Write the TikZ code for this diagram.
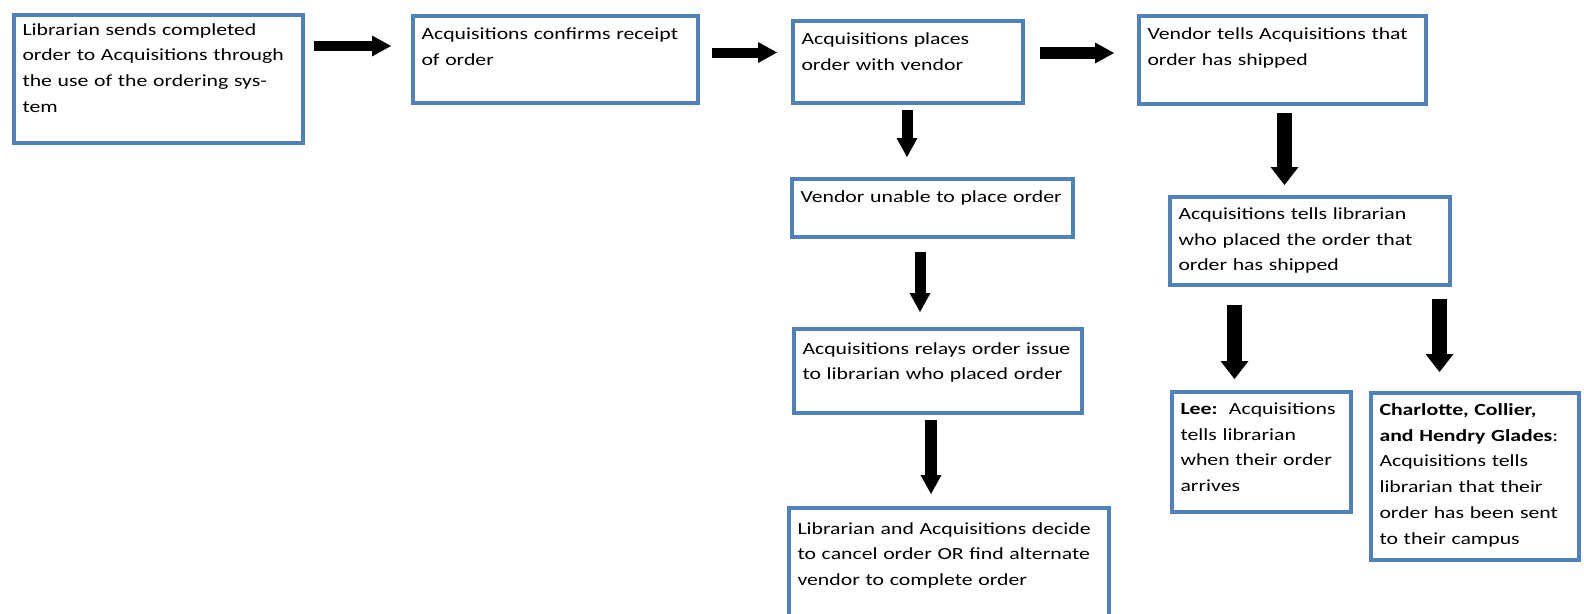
\documentclass[tikz,border=0pt]{standalone}
\usepackage{fontspec}
\setmainfont{Carlito}[FakeStretch=1.28]
\usepackage{tikz}
\usetikzlibrary{calc,arrows.meta}
\usepackage{xcolor}
\definecolor{boxblue}{HTML}{4F81BD}

\begin{document}
\begin{tikzpicture}[x=1pt, y=-1pt,
    stepbox/.style={draw=boxblue, line width=4pt, anchor=north west, align=left,
        inner xsep=8.5pt, inner ysep=0pt, text height=23.5pt,
        font=\fontsize{17}{25.7}\selectfont},
    flow/.style={line width=11pt, -{Triangle[width=21pt, length=19pt, line width=0pt]}},
    bigflow/.style={line width=15pt, -{Triangle[width=28pt, length=18pt, line width=0pt]}}]
    \useasboundingbox (0,0) rectangle (1584,613);

    % Top row
    \node[stepbox, text width=272pt, text height=20pt, text depth=108pt] (send) at (12,13)
        {Librarian sends completed\\order to Acquisitions through\\the use of the ordering sys-\\tem};
    \node[stepbox, text width=268pt, text depth=63.5pt] (confirm) at (411,14)
        {Acquisitions confirms receipt\\of order};
    \node[stepbox, text width=213pt, text depth=58.5pt] (place) at (791,19)
        {Acquisitions places\\order with vendor};
    \node[stepbox, text width=270pt, text depth=64.5pt] (shipped) at (1137,14)
        {Vendor tells Acquisitions that\\order has shipped};

    % Vendor problem branch
    \node[stepbox, text width=264pt, text depth=34.5pt] (unable) at (790,177)
        {Vendor unable to place order};
    \node[stepbox, text width=271pt, text height=25pt, text depth=59pt] (relay) at (792,327)
        {Acquisitions relays order issue\\to librarian who placed order};
    \node[stepbox, text width=303pt, text height=26pt, text depth=94pt] (decide) at (787,506)
        {Librarian and Acquisitions decide\\to cancel order OR find alternate\\vendor to complete order};

    % Shipping branch
    \node[stepbox, text width=263pt, text height=22.5pt, text depth=65.5pt] (tell) at (1168,195)
        {Acquisitions tells librarian\\who placed the order that\\order has shipped};
    \node[stepbox, text width=162pt, text height=22.5pt, text depth=97.5pt] (lee) at (1170,390)
        {\textbf{Lee:}\ \ Acquisitions\\tells librarian\\when their order\\arrives};
    \node[stepbox, text width=191pt, text height=22.5pt, text depth=144.5pt] (campus) at (1369,391)
        {\textbf{Charlotte, Collier,}\\\textbf{and Hendry Glades}:\\Acquisitions tells\\librarian that their\\order has been sent\\to their campus};

    % Arrows
    \draw[flow, line width=10pt, shorten <=9pt, shorten >=20pt] (send.east |- 0,46) -- (confirm.west |- 0,46);
    \draw[flow, line width=10pt, shorten <=12pt, shorten >=14pt] (confirm.east |- 0,52.5) -- (place.west |- 0,52.5);
    \draw[flow, line width=12pt, shorten <=15pt, shorten >=23pt] (place.east |- 0,53) -- (shipped.west |- 0,53);
    \draw[flow, shorten <=5pt, shorten >=20pt] (place.south -| 907,0) -- (unable.north -| 907,0);
    \draw[flow, shorten <=13pt, shorten >=15pt] (unable.south -| 920,0) -- (relay.north -| 920,0);
    \draw[flow, line width=12pt, shorten <=5pt, shorten >=12pt] (relay.south -| 931,0) -- (decide.north -| 931,0);
    \draw[bigflow, shorten <=7pt, shorten >=10pt] (shipped.south -| 1284.5,0) -- (tell.north -| 1284.5,0);
    \draw[bigflow, shorten <=18pt, shorten >=11pt] (tell.south -| 1234.5,0) -- (lee.north -| 1234.5,0);
    \draw[bigflow, shorten <=12pt, shorten >=19pt] (tell.south -| 1439.5,0) -- (campus.north -| 1439.5,0);
\end{tikzpicture}
\end{document}
